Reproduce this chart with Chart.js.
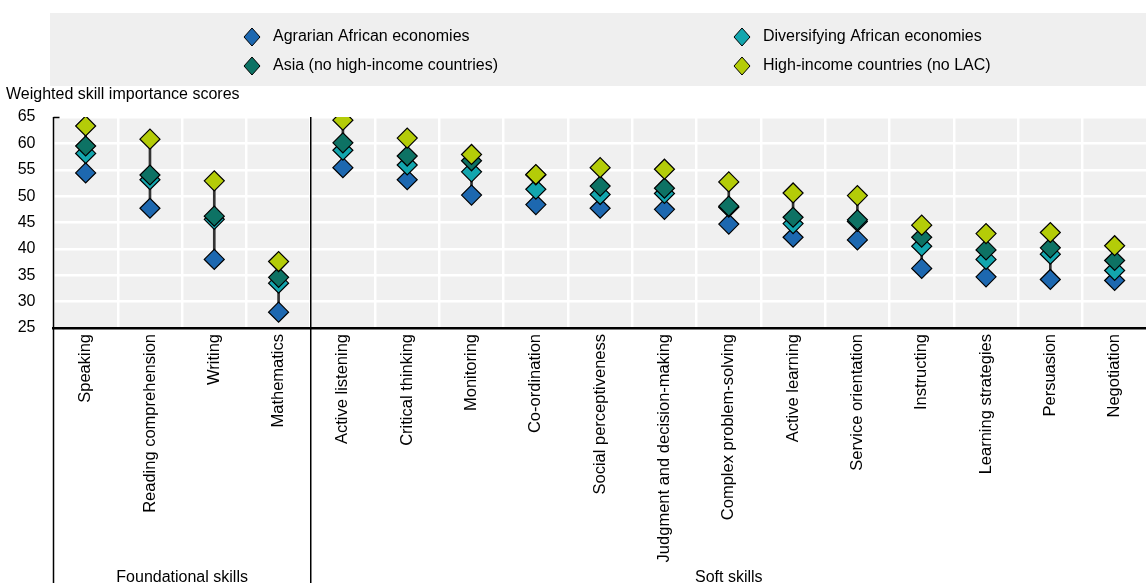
<!DOCTYPE html>
<html>
<head>
<meta charset="utf-8">
<script src="https://cdn.jsdelivr.net/npm/chart.js@4"></script>
<style>
  html, body { margin: 0; padding: 0; background: #fff; overflow: hidden; }
  #wrap { width: 1158px; height: 583px; }
</style>
</head>
<body>
<div id="wrap"><canvas id="chart-skills"></canvas></div>
<script>
const skills = ['Speaking', 'Reading comprehension', 'Writing', 'Mathematics',
  'Active listening', 'Critical thinking', 'Monitoring', 'Co-ordination',
  'Social perceptiveness', 'Judgment and decision-making', 'Complex problem-solving',
  'Active learning', 'Service orientation', 'Instructing', 'Learning strategies',
  'Persuasion', 'Negotiation'];

const agrarian     = [54.4, 47.7, 38.0, 28.0, 55.4, 53.1, 50.2, 48.4, 47.7, 47.5, 44.7, 42.2, 41.7, 36.3, 34.7, 34.2, 34.0];
const diversifying = [58.1, 53.1, 45.6, 33.5, 58.7, 55.9, 54.6, 51.3, 50.3, 50.5, 47.9, 44.8, 45.2, 40.5, 38.0, 39.0, 35.9];
const asia         = [59.5, 54.0, 46.2, 34.6, 60.1, 57.6, 56.7, 54.0, 51.9, 51.5, 48.1, 46.0, 45.5, 42.2, 39.8, 40.2, 37.8];
const highIncome   = [63.3, 60.8, 52.9, 37.6, 64.4, 61.0, 57.9, 54.1, 55.4, 55.1, 52.7, 50.6, 50.1, 44.5, 42.9, 43.1, 40.6];

const yTicks = [25, 30, 35, 40, 45, 50, 55, 60, 65];
const groups = [
  { label: 'Foundational skills', from: 0, to: 3 },
  { label: 'Soft skills', from: 4, to: 16 }
];

const FONT = 'Arial, "Liberation Sans", sans-serif';

// min-max range for the connecting line
const ranges = skills.map((s, i) => {
  const vals = [agrarian[i], diversifying[i], asia[i], highIncome[i]];
  return [Math.min(...vals), Math.max(...vals)];
});

function series(label, data, color, order) {
  return {
    type: 'line',
    label: label,
    data: data,
    showLine: false,
    pointStyle: 'rectRot',
    pointRadius: 10,
    pointHoverRadius: 10,
    pointBackgroundColor: color,
    pointBorderColor: '#000',
    pointBorderWidth: 1.2,
    backgroundColor: color,
    borderColor: '#000',
    order: order
  };
}

const dataSkills = {
  labels: skills,
  datasets: [
    series('Agrarian African economies', agrarian, '#1d68b0', 4),
    series('Diversifying African economies', diversifying, '#13a6ae', 3),
    series('Asia (no high-income countries)', asia, '#0d7264', 2),
    series('High-income countries (no LAC)', highIncome, '#b4cc08', 1),
    {
      type: 'bar',
      label: 'range',
      data: ranges,
      backgroundColor: '#333',
      barThickness: 2,
      order: 5
    }
  ]
};

// background, separators, legend box, titles
const decor = {
  id: 'decor',
  beforeDraw(chart) {
    const { ctx, chartArea: a } = chart;
    ctx.save();
    ctx.fillStyle = '#f0f0f0';
    ctx.fillRect(a.left, a.top, a.right - a.left, a.bottom - a.top);
    ctx.restore();
  },
  afterDraw(chart) {
    const { ctx, chartArea: a, scales } = chart;
    const x = scales.x;
    const H = chart.height;
    ctx.save();
    // left axis line going down through labels
    ctx.strokeStyle = '#000';
    ctx.lineWidth = 1.5;
    ctx.beginPath();
    ctx.moveTo(a.left, a.top);
    ctx.lineTo(a.left, H);
    ctx.moveTo(a.left, a.top + 0.5);
    ctx.lineTo(a.left + 6, a.top + 0.5);
    ctx.stroke();
    // group separator
    const sep = (x.getPixelForValue(3) + x.getPixelForValue(4)) / 2;
    ctx.beginPath();
    ctx.moveTo(sep, a.top);
    ctx.lineTo(sep, H);
    ctx.stroke();
    // group labels
    ctx.fillStyle = '#000';
    ctx.font = '16px ' + FONT;
    ctx.textAlign = 'center';
    ctx.textBaseline = 'middle';
    groups.forEach(g => {
      const l = g.from === 0 ? a.left : sep;
      const r = g.to === skills.length - 1 ? a.right : sep;
      ctx.fillText(g.label, (l + r) / 2, 578);
    });
    // y title
    ctx.textAlign = 'left';
    ctx.fillText('Weighted skill importance scores', 6, 95);
    // legend box
    ctx.fillStyle = '#efefef';
    ctx.fillRect(50, 13, chart.width - 50, 73);
    const items = chart.data.datasets.slice(0, 4);
    const pos = [[252, 37], [742, 37], [252, 66], [742, 66]];
    items.forEach((d, i) => {
      const [px, py] = pos[i];
      ctx.beginPath();
      ctx.moveTo(px, py - 9);
      ctx.lineTo(px + 8, py);
      ctx.lineTo(px, py + 9);
      ctx.lineTo(px - 8, py);
      ctx.closePath();
      ctx.fillStyle = d.pointBackgroundColor;
      ctx.fill();
      ctx.strokeStyle = '#000';
      ctx.lineWidth = 1;
      ctx.stroke();
      ctx.fillStyle = '#000';
      ctx.fillText(d.label, px + 21, py);
    });
    ctx.restore();
  }
};

const configSkills = {
  data: dataSkills,
  plugins: [decor],
  options: {
    animation: false,
    responsive: true,
    maintainAspectRatio: false,
    layout: { padding: { top: 117, left: 0, right: 0, bottom: 0 } },
    plugins: {
      legend: { display: false },
      tooltip: { enabled: false }
    },
    scales: {
      x: {
        type: 'category',
        offset: true,
        grid: { offset: true, color: '#fff', lineWidth: 2.5, drawTicks: false },
        border: { color: '#000', width: 2.5 },
        ticks: {
          color: '#000',
          font: { size: 16.5, family: FONT },
          minRotation: 90,
          maxRotation: 90,
          autoSkip: false,
          padding: 6
        },
        afterFit(scale) { scale.height = 255; }
      },
      y: {
        min: 25,
        max: 65,
        afterBuildTicks(scale) { scale.ticks = yTicks.map(v => ({ value: v })); },
        grid: { color: '#fff', lineWidth: 2.5, drawTicks: false },
        border: { display: false },
        ticks: {
          color: '#000',
          font: { size: 16, family: FONT },
          padding: 18
        },
        afterFit(scale) { scale.width = 53.5; }
      }
    }
  }
};

const myChartSkills = new Chart(document.getElementById('chart-skills'), configSkills);
</script>
</body>
</html>
